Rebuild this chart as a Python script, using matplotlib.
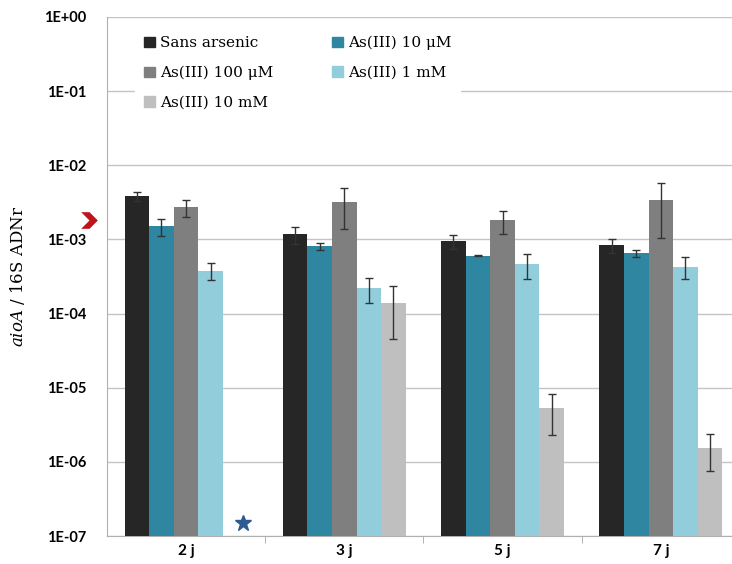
import numpy as np
import matplotlib
matplotlib.use("Agg")
import matplotlib.pyplot as plt
import matplotlib.transforms as mtransforms
from matplotlib.patches import Patch
from matplotlib.path import Path

plt.rcParams["mathtext.fontset"] = "dejavuserif"

days = ["2 j", "3 j", "5 j", "7 j"]
series = ["Sans arsenic", "As(III) 10 \u03bcM", "As(III) 100 \u03bcM",
          "As(III) 1 mM", "As(III) 10 mM"]
colors = ["#262626", "#2F86A0", "#7F7F7F", "#92CDDC", "#BFBFBF"]

# aioA / 16S ratio (nan = not detected, marked with a star)
sans = [3.8e-3, 1.17e-3, 9.4e-4, 8.3e-4]
as10u = [1.5e-3, 8.1e-4, 6.0e-4, 6.5e-4]
as100u = [2.7e-3, 3.2e-3, 1.8e-3, 3.4e-3]
as1m = [3.8e-4, 2.2e-4, 4.6e-4, 4.3e-4]
as10m = [np.nan, 1.4e-4, 5.3e-6, 1.55e-6]

sans_err = [0.5e-3, 0.3e-3, 0.2e-3, 0.17e-3]
as10u_err = [0.4e-3, 0.08e-3, 0.01e-3, 0.08e-3]
as100u_err = [0.7e-3, 1.8e-3, 0.6e-3, 2.35e-3]
as1m_err = [1.0e-4, 0.8e-4, 1.7e-4, 1.4e-4]
as10m_err = [np.nan, 0.95e-4, 3.0e-6, 0.8e-6]

star_y = 1.5e-7
arrow_y = 1.8e-3

values = [sans, as10u, as100u, as1m, as10m]
errors = [sans_err, as10u_err, as100u_err, as1m_err, as10m_err]

fig = plt.figure(figsize=(7.32, 5.64), dpi=100)
ax = fig.add_axes([0.146, 0.0496, 0.854, 0.9204])

x = np.arange(len(days))
w = 0.155
for i, (vals, errs) in enumerate(zip(values, errors)):
    pos = x + (i - 2) * w
    ax.bar(pos, vals, width=w, color=colors[i], zorder=3, label=series[i])
    ax.errorbar(pos, vals, yerr=errs, fmt="none", ecolor="#333333",
                elinewidth=1, capsize=3, capthick=1, zorder=4)

# star where 10 mM was not detected at 2 j
ax.plot(x[0] + 2 * w + 0.05, star_y, marker="*", ms=12, color="#2E5A94",
        ls="none", zorder=5)

# red chevron outside the axis
chevron = Path([(-1, 1), (0, 1), (1, 0), (0, -1), (-1, -1), (0, 0), (-1, 1)],
               [Path.MOVETO] + [Path.LINETO] * 5 + [Path.CLOSEPOLY])
trans = mtransforms.blended_transform_factory(ax.transAxes, ax.transData)
ax.plot(-0.028, arrow_y, marker=chevron, ms=12, color="#C0141C", transform=trans,
        clip_on=False, mew=0)

ax.set_yscale("log")
ax.set_ylim(1e-7, 1)
ax.set_xlim(-0.5, 3.45)
ax.set_yticks([10.0 ** k for k in range(-7, 1)])
ax.set_yticklabels([f"1E{k:+03d}" if k == 0 else f"1E-{abs(k):02d}"
                    for k in range(-7, 1)])
ax.minorticks_off()
ax.tick_params(axis="y", length=0, pad=15)
for lab in ax.get_yticklabels():
    lab.set_fontfamily("Lato")
    lab.set_fontweight("bold")
    lab.set_fontsize(10.5)

ax.set_xticks(x)
ax.set_xticklabels(days, fontfamily="Lato", fontweight="bold", fontsize=11)
ax.set_xticks([0.5, 1.5, 2.5], minor=True)
ax.tick_params(axis="x", which="major", length=0, pad=6)
ax.tick_params(axis="x", which="minor", length=5, color="#A6A6A6", direction="out")

ax.grid(True, axis="y", color="#C4C4C4", lw=1, zorder=0)
for s in ("top", "right"):
    ax.spines[s].set_visible(False)
for s in ("left", "bottom"):
    ax.spines[s].set_color("#B0B0B0")

ax.set_ylabel("$\\mathit{aioA}$ / 16S ADNr", fontfamily="DejaVu Serif",
              fontsize=12, labelpad=12)

order = [0, 2, 4, 1, 3]
handles = [Patch(color=colors[i]) for i in order]
leg = ax.legend(handles, [series[i] for i in order], ncol=2, loc="upper left",
                bbox_to_anchor=(0.038, 0.99), frameon=True, framealpha=1,
                edgecolor="white", handlelength=0.7, handleheight=0.7,
                handletextpad=0.3, labelspacing=1.02, columnspacing=3.9,
                borderpad=0.6, borderaxespad=0.3,
                prop={"family": "DejaVu Serif", "size": 11})
leg.set_zorder(6)

fig.savefig("out.png", dpi=100)
